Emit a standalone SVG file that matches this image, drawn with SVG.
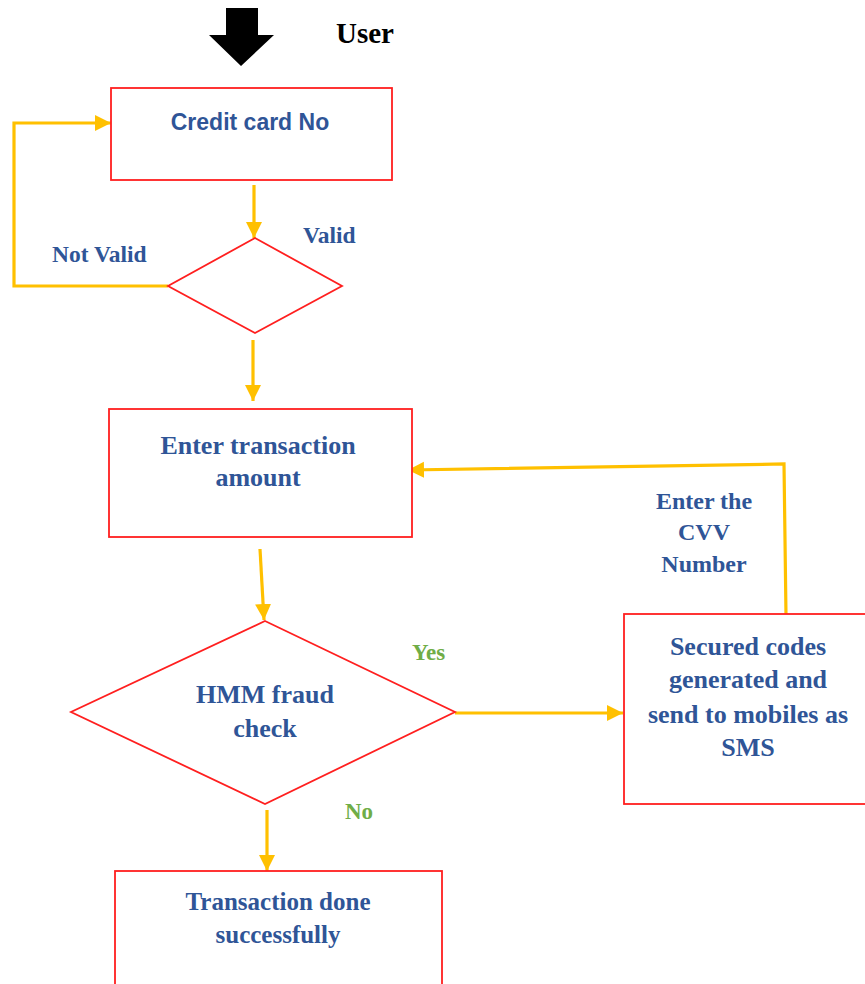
<svg xmlns="http://www.w3.org/2000/svg" width="865" height="984" viewBox="0 0 865 984">
  <defs>
    <marker id="head" markerUnits="userSpaceOnUse" markerWidth="18" markerHeight="18" refX="16" refY="8" orient="auto">
      <path d="M0,0 L16,8 L0,16 Z" fill="#FFC000"/>
    </marker>
    <style>
      .box { fill: #FFFFFF; stroke: #FF1F1F; stroke-width: 1.8; }
      .flow { fill: none; stroke: #FFC000; stroke-width: 3.2; stroke-linejoin: miter; }
      .lbl { font-family: "Liberation Serif", "Times New Roman", serif; font-weight: bold; fill: #2F5597; }
      .sans { font-family: "Liberation Sans", Arial, sans-serif; font-weight: bold; fill: #2F5597; }
      .ok { font-family: "Liberation Serif", "Times New Roman", serif; font-weight: bold; fill: #70AD47; font-size: 23px; }
    </style>
  </defs>
  <rect width="865" height="984" fill="#FFFFFF"/>

  <!-- entry point -->
  <g id="user">
    <polygon points="226,8 258,8 258,35 274,35 241,66 209,35 226,35" fill="#000000"/>
    <text x="336" y="43" font-family="Liberation Serif, serif" font-weight="bold" font-size="29" fill="#000000">User</text>
  </g>

  <!-- connectors -->
  <g id="connectors">
    <polyline class="flow" points="168,286 14,286 14,123 111,123" marker-end="url(#head)"/>
    <line class="flow" x1="254" y1="185" x2="254" y2="238" marker-end="url(#head)"/>
    <line class="flow" x1="253" y1="340" x2="253" y2="401" marker-end="url(#head)"/>
    <line class="flow" x1="260" y1="549" x2="264" y2="620" marker-end="url(#head)"/>
    <line class="flow" x1="455" y1="713" x2="623" y2="713" marker-end="url(#head)"/>
    <polyline class="flow" points="786,615 784,464 408,470" marker-end="url(#head)"/>
    <line class="flow" x1="267" y1="810" x2="267" y2="871" marker-end="url(#head)"/>
  </g>

  <g id="card-number">
    <rect class="box" x="111" y="88" width="281" height="92"/>
    <text class="sans" x="250" y="130" font-size="23" text-anchor="middle">Credit card No</text>
  </g>

  <g id="validity-check">
    <polygon class="box" points="255,238 342,286 255,333 168,286"/>
    <text class="lbl" x="303" y="243" font-size="23.5">Valid</text>
    <text class="lbl" x="52" y="262" font-size="23.5">Not Valid</text>
  </g>

  <g id="amount">
    <rect class="box" x="109" y="409" width="303" height="128"/>
    <text class="lbl" x="258" y="454" font-size="26" text-anchor="middle">Enter transaction</text>
    <text class="lbl" x="258" y="486" font-size="26" text-anchor="middle">amount</text>
  </g>

  <g id="cvv-label">
    <text class="lbl" x="704" y="509" font-size="24" text-anchor="middle">Enter the</text>
    <text class="lbl" x="704" y="540" font-size="24" text-anchor="middle">CVV</text>
    <text class="lbl" x="704" y="572" font-size="24" text-anchor="middle">Number</text>
  </g>

  <g id="fraud-check">
    <polygon class="box" points="265,621 455,712 265,804 71,712"/>
    <text class="lbl" x="265" y="703" font-size="26" text-anchor="middle">HMM fraud</text>
    <text class="lbl" x="265" y="737" font-size="26" text-anchor="middle">check</text>
    <text class="ok" x="412" y="660">Yes</text>
    <text class="ok" x="345" y="819">No</text>
  </g>

  <g id="secure-codes">
    <rect class="box" x="624" y="614" width="260" height="190"/>
    <text class="lbl" x="748" y="655" font-size="26" text-anchor="middle">Secured codes</text>
    <text class="lbl" x="748" y="688" font-size="26" text-anchor="middle">generated and</text>
    <text class="lbl" x="748" y="723" font-size="26" text-anchor="middle">send to mobiles as</text>
    <text class="lbl" x="748" y="756" font-size="26" text-anchor="middle">SMS</text>
  </g>

  <g id="done">
    <rect class="box" x="115" y="871" width="327" height="140"/>
    <text class="lbl" x="278" y="910" font-size="25" text-anchor="middle">Transaction done</text>
    <text class="lbl" x="278" y="943" font-size="25" text-anchor="middle">successfully</text>
  </g>
</svg>
